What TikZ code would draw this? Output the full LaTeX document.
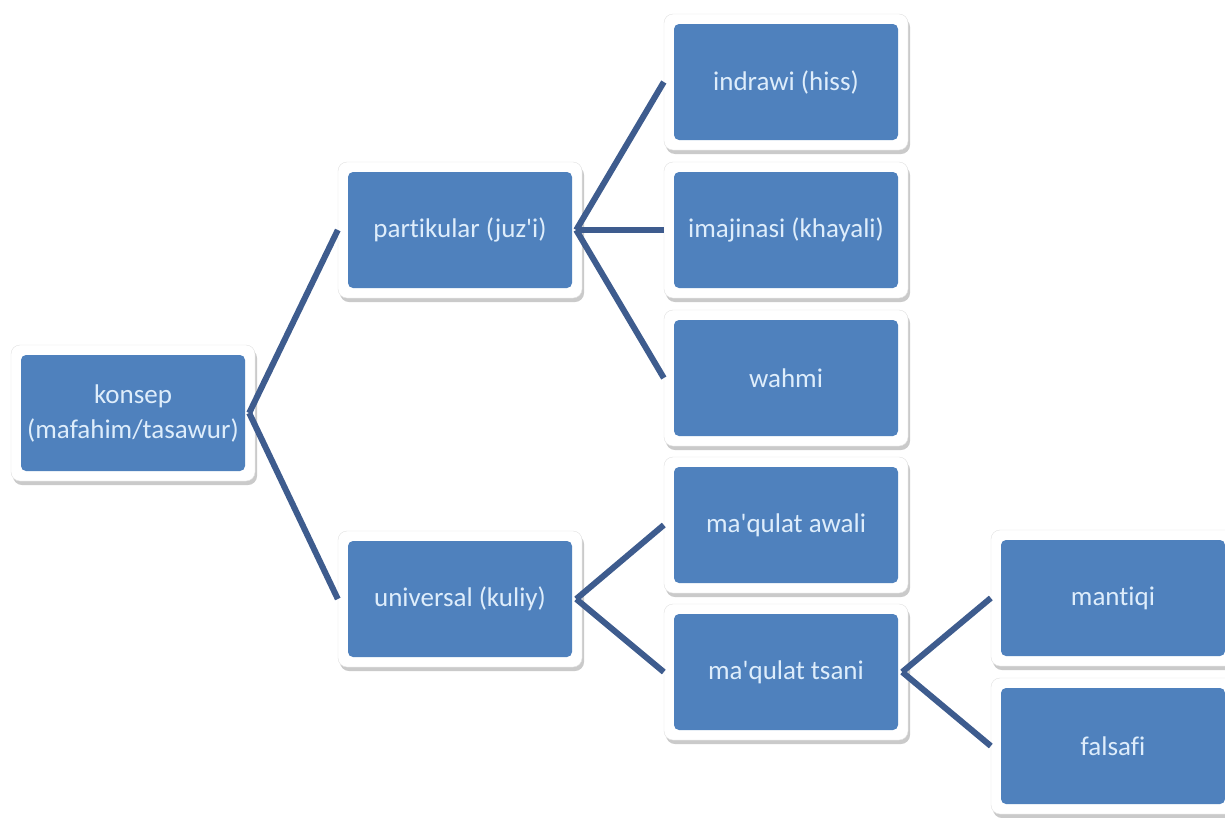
\documentclass[tikz,border=0pt]{standalone}
\usepackage{fontspec}
\setmainfont{Carlito}[Ligatures=NoCommon]
\usetikzlibrary{shadows}

\definecolor{boxblue}{RGB}{79,129,189}
\definecolor{linkblue}{RGB}{62,92,142}
\definecolor{textblue}{RGB}{222,237,251}

\tikzset{
  box/.style={rectangle, rounded corners=9pt, fill=white, draw=black!12, thin,
    minimum width=244pt, minimum height=136pt, inner sep=2pt, align=center,
    text=textblue, font=\fontsize{27}{35}\selectfont,
    drop shadow={shadow xshift=2pt, shadow yshift=-4pt, opacity=0.35, fill=black!60},
    path picture={\fill[boxblue, rounded corners=5pt]
      ([shift={(10pt,-10pt)}]path picture bounding box.north west) rectangle
      ([shift={(-10pt,10pt)}]path picture bounding box.south east);}},
  link/.style={draw=linkblue, line width=6pt}
}

\begin{document}
\begin{tikzpicture}[x=1pt, y=-1pt]

    \useasboundingbox (0,0) rectangle (1225,817);

    % Boxes, column by column
    \node[box] (konsep) at (133,413) {konsep\\(mafahim/tasawur)};

    \node[box] (partikular) at (460,230) {partikular (juz\textquotesingle i)};
    \node[box] (universal) at (460,599) {universal (kuliy)};

    \node[box] (indrawi) at (786,82) {indrawi (hiss)};
    \node[box] (imajinasi) at (786,230) {imajinasi (khayali)};
    \node[box] (wahmi) at (786,378) {wahmi};
    \node[box] (awali) at (786,525) {ma\textquotesingle qulat awali};
    \node[box] (tsani) at (786,672) {ma\textquotesingle qulat tsani};

    \node[box] (mantiqi) at (1113,598) {mantiqi};
    \node[box] (falsafi) at (1113,746) {falsafi};

    % Connectors
    \draw[link] ([xshift=-6pt]konsep.east) -- (partikular.west);
    \draw[link] ([xshift=-6pt]konsep.east) -- (universal.west);

    \draw[link] ([xshift=-6pt]partikular.east) -- (indrawi.west);
    \draw[link] ([xshift=-6pt]partikular.east) -- (imajinasi.west);
    \draw[link] ([xshift=-6pt]partikular.east) -- (wahmi.west);

    \draw[link] ([xshift=-6pt]universal.east) -- (awali.west);
    \draw[link] ([xshift=-6pt]universal.east) -- (tsani.west);

    \draw[link] ([xshift=-6pt]tsani.east) -- (mantiqi.west);
    \draw[link] ([xshift=-6pt]tsani.east) -- (falsafi.west);

\end{tikzpicture}
\end{document}
